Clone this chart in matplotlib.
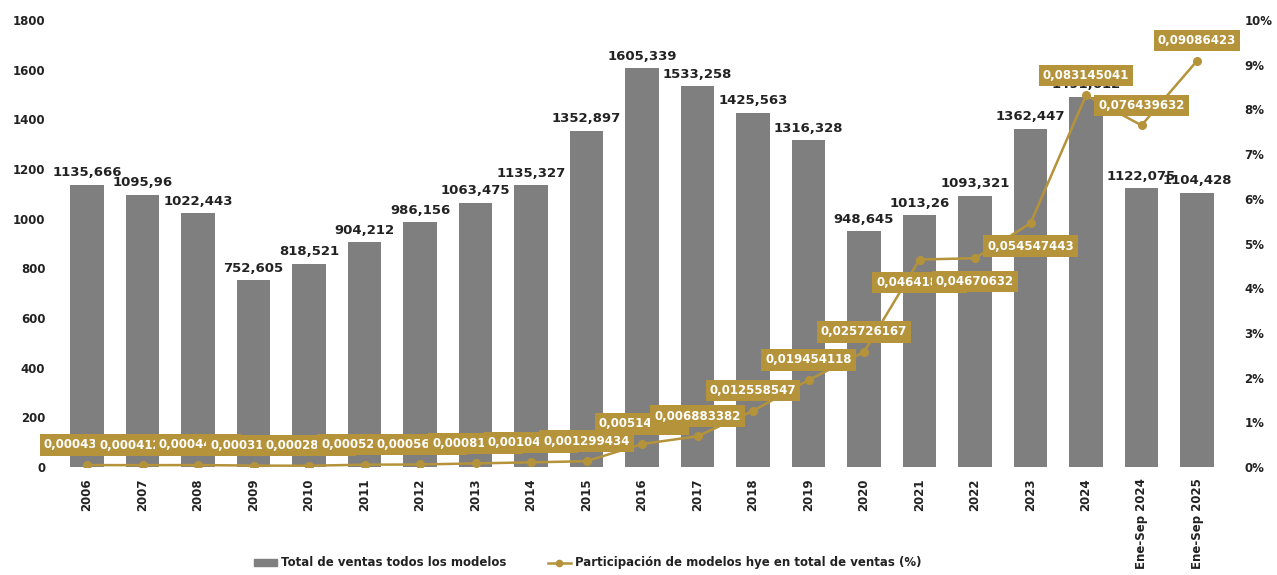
import matplotlib
matplotlib.use("Agg")
import matplotlib.pyplot as plt
from matplotlib.patches import Patch
from matplotlib.lines import Line2D
from matplotlib.ticker import FuncFormatter

# ---------------- data ----------------
categories = ["2006", "2007", "2008", "2009", "2010", "2011", "2012", "2013", "2014",
              "2015", "2016", "2017", "2018", "2019", "2020", "2021", "2022", "2023",
              "2024", "Ene-Sep 2024", "Ene-Sep 2025"]
total_ventas = [1135.666, 1095.96, 1022.443, 752.605, 818.521, 904.212, 986.156,
                1063.475, 1135.327, 1352.897, 1605.339, 1533.258, 1425.563, 1316.328,
                948.645, 1013.26, 1093.321, 1362.447, 1491.612, 1122.075, 1104.428]
participacion = [0.000436128, 0.000412593, 0.00044187, 0.000318462, 0.000287154,
                 0.000524318, 0.000563172, 0.000815246, 0.001043587, 0.001299434,
                 0.005143219, 0.006883382, 0.012558547, 0.019454118, 0.025726167,
                 0.046418325, 0.04670632, 0.054547443, 0.083145041, 0.076439632,
                 0.09086423]
y_left_ticks = [0, 200, 400, 600, 800, 1000, 1200, 1400, 1600, 1800]
y_right_ticks = [0.0, 0.01, 0.02, 0.03, 0.04, 0.05, 0.06, 0.07, 0.08, 0.09, 0.10]
legend_labels = ["Total de ventas todos los modelos",
                 "Participación de modelos hye en total de ventas (%)"]

# ---------------- style ----------------
BAR_COLOR = "#7f7f7f"
GOLD = "#b5933a"
TEXT = "#222222"
labels_below = {"2021", "2022", "2023"}

plt.rcParams["font.family"] = ["DejaVu Sans"]

fig = plt.figure(figsize=(12.77, 5.75), dpi=100)
ax = fig.add_axes([0.0464, 0.1878, 0.9127, 0.7774])
x = list(range(len(categories)))

ax.bar(x, total_ventas, width=0.6, color=BAR_COLOR, zorder=2)
ax.set_xlim(-0.5, len(categories) - 0.5)
ax.set_ylim(0, 1800)
ax.set_yticks(y_left_ticks)
ax.set_xticks(x)
ax.set_xticklabels(categories, rotation=90, fontsize=8.5, fontweight="bold", color=TEXT)
ax.tick_params(axis="both", length=0)
ax.tick_params(axis="x", pad=8)
ax.tick_params(axis="y", pad=10)
for t in ax.get_yticklabels():
    t.set_fontsize(8.5)
    t.set_fontweight("bold")
    t.set_color(TEXT)
for s in ax.spines.values():
    s.set_visible(False)

for xi, v in zip(x, total_ventas):
    ax.annotate(str(v).replace(".", ","), (xi, v), xytext=(0, 4),
                textcoords="offset points", ha="center", va="bottom",
                fontsize=9.5, fontweight="bold", color=TEXT, zorder=3)

ax2 = ax.twinx()
ax2.set_ylim(0, 0.10)
ax2.set_yticks(y_right_ticks)
ax2.yaxis.set_major_formatter(FuncFormatter(lambda v, p: f"{v*100:.0f}%"))
ax2.tick_params(axis="y", length=0, pad=14)
for t in ax2.get_yticklabels():
    t.set_fontsize(8.5)
    t.set_fontweight("bold")
    t.set_color(TEXT)
for s in ax2.spines.values():
    s.set_visible(False)

ax2.plot(x, participacion, color=GOLD, lw=1.8, marker="o", ms=5.5, zorder=3)
for xi, cat, v in zip(x, categories, participacion):
    dy = -16.5 if cat in labels_below else 14.5
    ax2.annotate(str(v).replace(".", ","), (xi, v), xytext=(0, dy),
                 textcoords="offset points", ha="center", va="center",
                 fontsize=8.5, fontweight="bold", color="white", zorder=4,
                 bbox=dict(boxstyle="square,pad=0.35", fc=GOLD, ec="none"))

handles = [Patch(color=BAR_COLOR),
           Line2D([0], [0], color=GOLD, lw=1.8, marker="o", ms=4.5)]
leg = fig.legend(handles, legend_labels, loc="center", bbox_to_anchor=(0.46, 0.021),
                 ncol=2, frameon=False, columnspacing=3.5, handlelength=2.0,
                 handleheight=0.5, handletextpad=0.3,
                 prop={"size": 8.5, "weight": "bold"})
for t in leg.get_texts():
    t.set_color(TEXT)

fig.savefig("out.png", dpi=100)
